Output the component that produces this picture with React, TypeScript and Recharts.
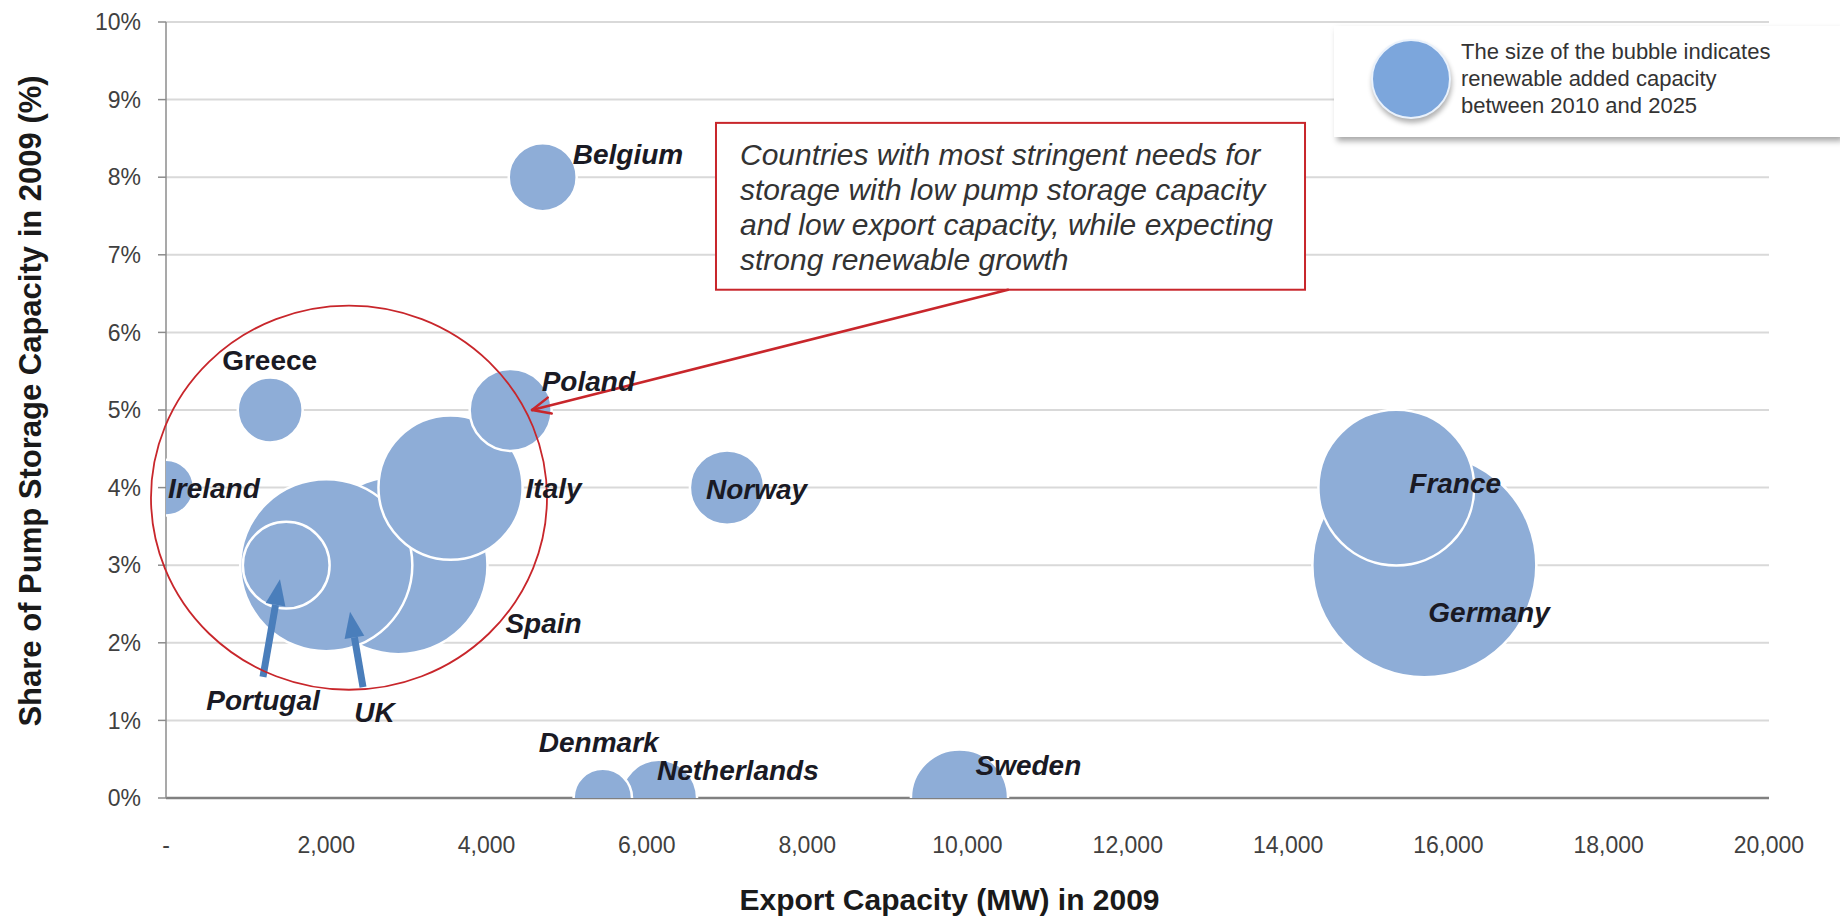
import {
  ScatterChart,
  Scatter,
  XAxis,
  YAxis,
  ZAxis,
  CartesianGrid,
  LabelList,
  Label,
  ReferenceDot,
  ReferenceArea,
} from "recharts";

// draw order matters: later bubbles sit on top of earlier ones
const COUNTRIES = [
  "Germany",
  "France",
  "Spain",
  "UK",
  "Portugal",
  "Italy",
  "Poland",
  "Greece",
  "Ireland",
  "Belgium",
  "Norway",
  "Netherlands",
  "Denmark",
  "Sweden",
];
const EXPORT_MW = [15700, 15350, 2900, 2000, 1500, 3550, 4300, 1300, 0, 4700, 7000, 6150, 5450, 9900];
const PUMP_SHARE_PCT = [3, 4, 3, 3, 3, 4, 5, 5, 4, 8, 4, 0, 0, 0];
// renewable capacity added 2010-2025 (GW), drives bubble area
const RES_ADDED_GW = [50, 24.2, 31.6, 29.5, 7.5, 20.7, 6.7, 4.2, 3.1, 4.6, 5.5, 5.8, 3.4, 9.4];

const X_TICKS = [0, 2000, 4000, 6000, 8000, 10000, 12000, 14000, 16000, 18000, 20000];
const Y_TICKS = [0, 1, 2, 3, 4, 5, 6, 7, 8, 9, 10];

const CALLOUT_LINES = [
  "Countries with most stringent needs for",
  "storage with low pump storage capacity",
  "and low export capacity, while expecting",
  "strong renewable growth",
];
const LEGEND_LINES = [
  "The size of the bubble indicates",
  "renewable added capacity",
  "between 2010 and 2025",
];

// annotation anchors, in chart units (MW, %)
const RING_CENTER = { x: 2283, y: 3.87 };
const CALLOUT_BOX = { x1: 6862, x2: 14211, y1: 6.55, y2: 8.7 };
const CALLOUT_ARROW = [
  { x: 10506, y: 6.55 },
  { x: 4567, y: 5.0 },
];
const PORTUGAL_ARROW = [
  { x: 1210, y: 1.56 },
  { x: 1422, y: 2.82 },
];
const UK_ARROW = [
  { x: 2458, y: 1.43 },
  { x: 2296, y: 2.4 },
];

const data = COUNTRIES.map((name, i) => ({
  name,
  x: EXPORT_MW[i],
  y: PUMP_SHARE_PCT[i],
  z: RES_ADDED_GW[i],
}));

// label placement relative to bubble centre (left edge, vertical middle)
const LABEL_POS: Record<string, { dx: number; dy: number; upright?: boolean }> = {
  Germany: { dx: 4, dy: 47 },
  France: { dx: 13, dy: -4 },
  Spain: { dx: 107, dy: 58 },
  UK: { dx: 28, dy: 147 },
  Portugal: { dx: -80, dy: 135 },
  Italy: { dx: 75, dy: 1 },
  Poland: { dx: 31, dy: -29 },
  Greece: { dx: -48, dy: -50, upright: true },
  Ireland: { dx: 2, dy: 1 },
  Belgium: { dx: 30, dy: -23 },
  Norway: { dx: -21, dy: 2 },
  Netherlands: { dx: -2, dy: -28 },
  Denmark: { dx: -64, dy: -56 },
  Sweden: { dx: 16, dy: -33 },
};

const FONT = "'Liberation Sans', Arial, sans-serif";
const BUBBLE = "#8eadd7";
const RED = "#c8262b";
const BLUE_ARROW = "#4a7ebb";
const MAX_R = 112;
const RING_R = 198;

const fmtX = (v: number) => (v === 0 ? "-" : v.toLocaleString("en-US"));

const Bubble = (p: any) => {
  const r = p.width != null ? p.width / 2 : Math.sqrt((p.size ?? 64) / Math.PI);
  return <circle cx={p.cx} cy={p.cy} r={r} fill={BUBBLE} stroke="#ffffff" strokeWidth={2.5} />;
};

const NoMark = () => <g />;

const CountryLabel = (p: any) => {
  const vb = p.viewBox ?? p;
  const cx = vb.x + vb.width / 2;
  const cy = vb.y + vb.height / 2;
  const pos = LABEL_POS[p.value] ?? { dx: 0, dy: 0 };
  return (
    <text
      x={cx + pos.dx}
      y={cy + pos.dy}
      dominantBaseline="central"
      fontFamily={FONT}
      fontSize={28}
      fontWeight={700}
      fontStyle={pos.upright ? "normal" : "italic"}
      fill="#1a1a24"
    >
      {p.value}
    </text>
  );
};

// thick filled arrow, drawn from the two points of a scatter "line"
const BlueArrow = (p: any) => {
  const [s, e] = p.points;
  const a = Math.atan2(e.y - s.y, e.x - s.x);
  const head = 26;
  const half = 10;
  const bx = e.x - head * Math.cos(a);
  const by = e.y - head * Math.sin(a);
  const nx = -Math.sin(a) * half;
  const ny = Math.cos(a) * half;
  return (
    <g>
      <line x1={s.x} y1={s.y} x2={bx} y2={by} stroke={BLUE_ARROW} strokeWidth={7} />
      <polygon points={`${e.x},${e.y} ${bx + nx},${by + ny} ${bx - nx},${by - ny}`} fill={BLUE_ARROW} />
    </g>
  );
};

const RedArrow = (p: any) => {
  const [s, e] = p.points;
  const a = Math.atan2(s.y - e.y, s.x - e.x);
  const len = 20;
  const spread = 0.42;
  return (
    <g stroke={RED} strokeWidth={2.5} fill="none" strokeLinecap="round">
      <line x1={s.x} y1={s.y} x2={e.x} y2={e.y} />
      <line x1={e.x} y1={e.y} x2={e.x + len * Math.cos(a + spread)} y2={e.y + len * Math.sin(a + spread)} />
      <line x1={e.x} y1={e.y} x2={e.x + len * Math.cos(a - spread)} y2={e.y + len * Math.sin(a - spread)} />
    </g>
  );
};

const Callout = (p: any) => (
  <g>
    <rect x={p.x} y={p.y} width={p.width} height={p.height} fill="#ffffff" stroke={RED} strokeWidth={2} />
    {CALLOUT_LINES.map((line, i) => (
      <text
        key={line}
        x={p.x + 24}
        y={p.y + 32 + i * 35}
        dominantBaseline="central"
        fontFamily={FONT}
        fontSize={30}
        fontStyle="italic"
        fill="#333333"
      >
        {line}
      </text>
    ))}
  </g>
);

const FocusRing = (p: any) => (
  <ellipse cx={p.cx} cy={p.cy} rx={RING_R} ry={RING_R * 0.97} fill="none" stroke={RED} strokeWidth={1.8} />
);

export default function App() {
  return (
    <div style={{ position: "absolute", left: 0, top: 0, width: 1840, height: 918, background: "#ffffff" }}>
      <ScatterChart width={1840} height={918} margin={{ top: 22, right: 71, bottom: 0, left: 26 }}>
        <CartesianGrid vertical={false} stroke="#d9d9d9" strokeWidth={2} />
        <XAxis
          type="number"
          dataKey="x"
          domain={[0, 20000]}
          ticks={X_TICKS}
          tickFormatter={fmtX}
          allowDataOverflow
          height={120}
          tickLine={false}
          tickSize={0}
          tickMargin={39}
          axisLine={{ stroke: "#808080", strokeWidth: 2.5 }}
          tick={{ fill: "#404040", fontSize: 23, fontFamily: FONT }}
        >
          <Label
            content={(lp: any) => {
              const vb = lp.viewBox;
              return (
                <text
                  x={vb.x + vb.width / 2 - 18}
                  y={vb.y + 101}
                  textAnchor="middle"
                  dominantBaseline="central"
                  fontFamily={FONT}
                  fontSize={30}
                  fontWeight={700}
                  fill="#1a1a1a"
                >
                  Export Capacity (MW) in 2009
                </text>
              );
            }}
          />
        </XAxis>
        <YAxis
          type="number"
          dataKey="y"
          domain={[0, 10]}
          ticks={Y_TICKS}
          tickFormatter={(v: number) => `${v}%`}
          allowDataOverflow
          width={140}
          tickSize={8}
          tickMargin={17}
          tickLine={{ stroke: "#8c8c8c", strokeWidth: 1.5 }}
          axisLine={{ stroke: "#8c8c8c", strokeWidth: 1.5 }}
          tick={{ fill: "#404040", fontSize: 23, fontFamily: FONT }}
        >
          <Label
            content={(lp: any) => {
              const vb = lp.viewBox;
              const x = vb.x + 4;
              const y = vb.y + vb.height / 2 - 9;
              return (
                <text
                  x={x}
                  y={y}
                  transform={`rotate(-90, ${x}, ${y})`}
                  textAnchor="middle"
                  dominantBaseline="central"
                  fontFamily={FONT}
                  fontSize={31}
                  fontWeight={700}
                  fill="#1a1a1a"
                >
                  Share of Pump Storage Capacity in 2009 (%)
                </text>
              );
            }}
          />
        </YAxis>
        <ZAxis type="number" dataKey="z" domain={[0, 50]} range={[0, Math.PI * MAX_R * MAX_R]} />
        <ReferenceArea
          x1={CALLOUT_BOX.x1}
          x2={CALLOUT_BOX.x2}
          y1={CALLOUT_BOX.y1}
          y2={CALLOUT_BOX.y2}
          ifOverflow="visible"
          shape={Callout}
        />
        <Scatter data={data} shape={Bubble} isAnimationActive={false}>
          <LabelList dataKey="name" content={CountryLabel} />
        </Scatter>
        <ReferenceDot
          x={RING_CENTER.x}
          y={RING_CENTER.y}
          r={RING_R}
          ifOverflow="visible"
          shape={FocusRing}
          zIndex={1000}
        />
        <Scatter data={CALLOUT_ARROW} shape={NoMark} line={RedArrow} isAnimationActive={false} />
        <Scatter data={PORTUGAL_ARROW} shape={NoMark} line={BlueArrow} isAnimationActive={false} />
        <Scatter data={UK_ARROW} shape={NoMark} line={BlueArrow} isAnimationActive={false} />
      </ScatterChart>

      <div
        style={{
          position: "absolute",
          left: 1334,
          top: 26,
          width: 506,
          height: 111,
          background: "#ffffff",
          boxShadow: "3px 4px 6px rgba(0,0,0,0.35)",
          fontFamily: FONT,
        }}
      >
        <div
          style={{
            position: "absolute",
            left: 37,
            top: 13,
            width: 76,
            height: 76,
            borderRadius: "50%",
            background: "#7ca6dc",
            border: "2px solid #eaf2fc",
            boxShadow: "1px 4px 5px rgba(0,0,0,0.3)",
          }}
        />
        <div
          style={{
            position: "absolute",
            left: 127,
            top: 12,
            fontSize: 22,
            lineHeight: "27px",
            color: "#333333",
            whiteSpace: "nowrap",
          }}
        >
          {LEGEND_LINES.map((l) => (
            <div key={l}>{l}</div>
          ))}
        </div>
      </div>
    </div>
  );
}
